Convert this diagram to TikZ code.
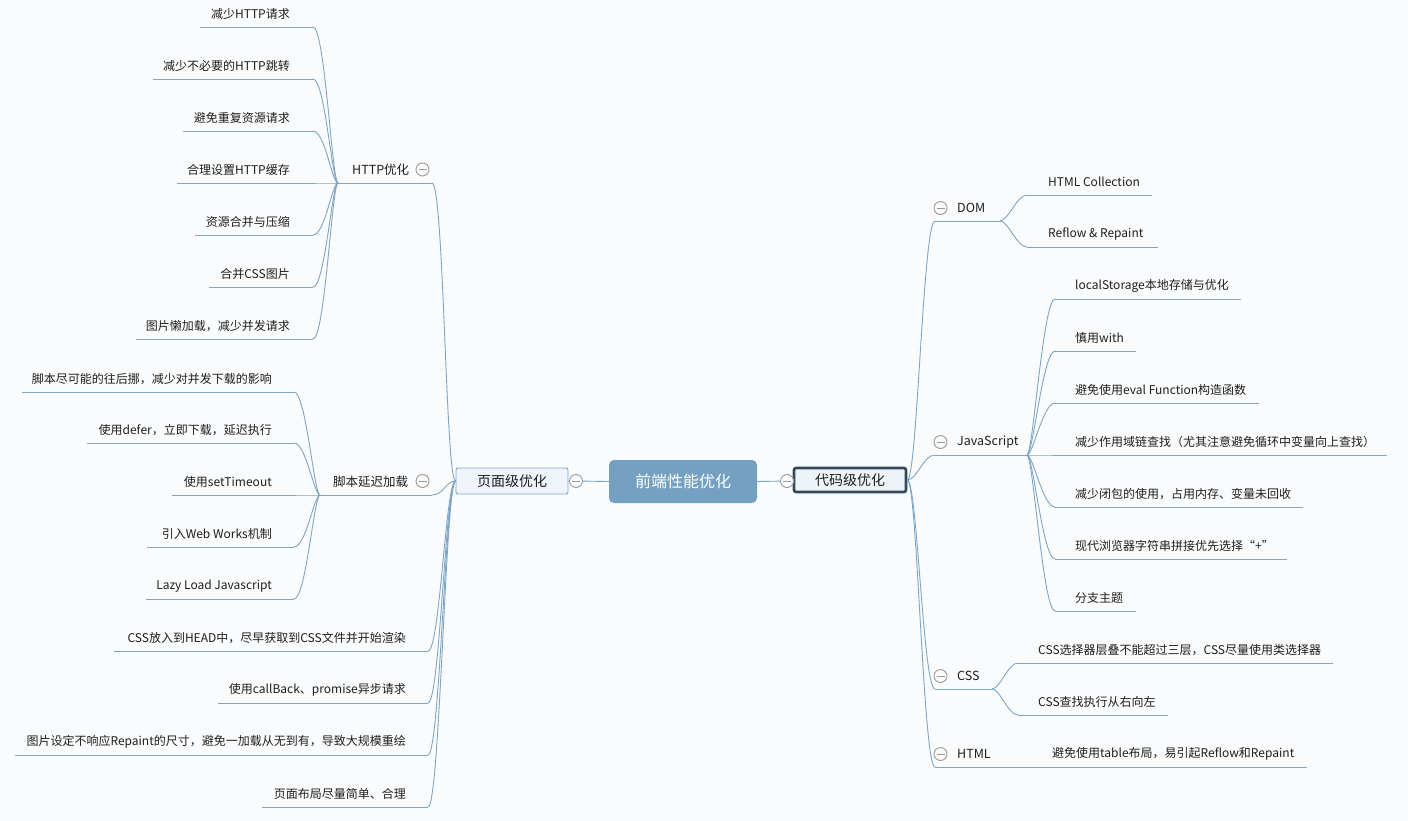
\documentclass[tikz,border=0pt]{standalone}
\usepackage{fontspec}
\setmainfont{Noto Sans CJK SC}
\usetikzlibrary{calc}
\definecolor{bg}{HTML}{FAFBFC}
\definecolor{linec}{HTML}{7FA5C5}
\definecolor{rootc}{HTML}{74A1C1}
\definecolor{lnode}{HTML}{EEF4FA}
\definecolor{lborder}{HTML}{7EA6C8}
\definecolor{rborder}{HTML}{35495C}
\definecolor{rnode}{HTML}{EEF3F7}
\definecolor{txt}{HTML}{1E1E1E}
\definecolor{togc}{HTML}{9A9A9A}
\newcommand\lnk[4]{\draw[conn] (#1) .. controls ($(#1)+(#3,0)$) and ($(#2)+(#4,0)$) .. (#2);}
\begin{document}
\begin{tikzpicture}[x=1pt,y=-1pt,
  conn/.style={draw=linec,line width=0.9pt},
  lab/.style={inner sep=0pt,text=txt,font=\fontsize{12}{14}\selectfont},
  mid/.style={inner sep=0pt,text=txt,font=\fontsize{12.5}{14}\selectfont},
  tog/.style={circle,draw=togc,line width=0.9pt,minimum size=13pt,inner sep=0pt,fill=bg,
    path picture={\draw[togc,line width=0.9pt] ([xshift=2.5pt]path picture bounding box.west) -- ([xshift=-2.5pt]path picture bounding box.east);}},
  rootbox/.style={fill=rootc,rounded corners=5pt,minimum width=148pt,minimum height=43pt,inner sep=0pt,text=white,font=\fontsize{16}{18}\selectfont},
  lbox/.style={fill=lnode,draw=lborder,line width=0.9pt,rounded corners=2pt,minimum width=112pt,minimum height=26pt,inner sep=0pt,text=txt,font=\fontsize{14}{16}\selectfont},
  rbox/.style={fill=rnode,draw=rborder,line width=2.6pt,rounded corners=2pt,minimum width=112pt,minimum height=24pt,inner sep=0pt,text=txt,font=\fontsize{14}{16}\selectfont}
]
\fill[bg] (0,0) rectangle (1408,821);
\useasboundingbox (0,0) rectangle (1408,821);

% central nodes
\node[rootbox] (root) at (683,481.5) {前端性能优化};
\node[lbox] (pl) at (512,481) {页面级优化};
\node[rbox] (cl) at (850,480) {代码级优化};
\node[tog] (t0) at (576,481) {};
\node[tog] (t1) at (787,481) {};
\draw[conn] (root.west) -- (t0) -- (pl.east);
\draw[conn] (root.east) -- (t1) -- (cl.west);

% ---------- HTTP优化 ----------
\coordinate (hE) at (432,183);
\coordinate (hJ) at (338,183);
\draw[conn] (hJ) -- (hE);
\node[mid,anchor=west] (hLab) at (352,170) {HTTP优化};
\node[tog] (hT) at (422.5,169.5) {};
\lnk{pl.west}{hE}{-10}{12}
\foreach \y/\x/\t [count=\i] in {27/200/减少HTTP请求,79/153/减少不必要的HTTP跳转,131/183/避免重复资源请求,183/177/合理设置HTTP缓存,235/195/资源合并与压缩,287/209/合并CSS图片,339/136/图片懒加载，减少并发请求}{
  \coordinate (hR\i) at (313,\y);
  \coordinate (hL\i) at (\x,\y);
  \node[lab,anchor=east] (hN\i) at (290,\y-13) {\t};
  \draw[conn] (hL\i) -- (hR\i);
  \lnk{hJ}{hR\i}{-6}{12}
}

% ---------- 脚本延迟加载 ----------
\coordinate (sE) at (432,495);
\coordinate (sJ) at (320,495);
\draw[conn] (sJ) -- (sE);
\node[mid,anchor=west] (sLab) at (333,482) {脚本延迟加载};
\node[tog] (sT) at (422.5,481) {};
\lnk{pl.west}{sE}{-10}{12}
\foreach \y/\x/\t [count=\i] in {392/22/脚本尽可能的往后挪，减少对并发下载的影响,443/87/使用defer，立即下载，延迟执行,495/172/使用setTimeout,547/147/引入Web Works机制,599/146/Lazy Load Javascript}{
  \coordinate (sR\i) at (294,\y);
  \coordinate (sL\i) at (\x,\y);
  \node[lab,anchor=east] (sN\i) at (272,\y-13) {\t};
  \draw[conn] (sL\i) -- (sR\i);
  \lnk{sJ}{sR\i}{-6}{12}
}

% ---------- direct leaves of 页面级优化 ----------
\foreach \y/\x/\t [count=\i] in {651/114/CSS放入到HEAD中，尽早获取到CSS文件并开始渲染,703/218/使用callBack、promise异步请求,755/15/图片设定不响应Repaint的尺寸，避免一加载从无到有，导致大规模重绘,807/262/页面布局尽量简单、合理}{
  \coordinate (pR\i) at (428,\y);
  \coordinate (pL\i) at (\x,\y);
  \node[lab,anchor=east] (pN\i) at (406,\y-13) {\t};
  \draw[conn] (pL\i) -- (pR\i);
  \lnk{pl.west}{pR\i}{-10}{12}
}

% ---------- DOM ----------
\coordinate (dL) at (935,221);
\coordinate (dJ) at (1000,221);
\draw[conn] (dL) -- (dJ);
\node[mid,anchor=west] (dLab) at (957,208) {DOM};
\node[tog] (dT) at (940.5,208) {};
\lnk{cl.east}{dL}{10}{-12}
\foreach \y/\x/\t [count=\i] in {195/1152/HTML Collection,247/1158/Reflow \& Repaint}{
  \coordinate (dA\i) at (1027,\y);
  \coordinate (dB\i) at (\x,\y);
  \node[lab,anchor=west] (dN\i) at (1048,\y-13) {\t};
  \draw[conn] (dA\i) -- (dB\i);
  \lnk{dJ}{dA\i}{8}{-10}
}

% ---------- JavaScript ----------
\coordinate (jL) at (935,455);
\coordinate (jJ) at (1027,455);
\draw[conn] (jL) -- (jJ);
\node[mid,anchor=west] (jLab) at (957,442) {JavaScript};
\node[tog] (jT) at (940.5,442) {};
\lnk{cl.east}{jL}{10}{-12}
\foreach \y/\x/\t [count=\i] in {299/1241/localStorage本地存储与优化,351/1136/慎用with,403/1259/避免使用eval Function构造函数,455/1387/减少作用域链查找（尤其注意避免循环中变量向上查找）,507/1303/减少闭包的使用，占用内存、变量未回收,559/1287/现代浏览器字符串拼接优先选择“+”,611/1136/分支主题}{
  \coordinate (jA\i) at (1055,\y);
  \coordinate (jB\i) at (\x,\y);
  \node[lab,anchor=west] (jN\i) at (1075,\y-13) {\t};
  \draw[conn] (jA\i) -- (jB\i);
  \lnk{jJ}{jA\i}{6}{-12}
}

% ---------- CSS ----------
\coordinate (cL) at (935,689);
\coordinate (cJ) at (992,689);
\draw[conn] (cL) -- (cJ);
\node[mid,anchor=west] (cLab) at (957,676) {CSS};
\node[tog] (cT) at (940.5,676) {};
\lnk{cl.east}{cL}{10}{-12}
\foreach \y/\x/\t [count=\i] in {663/1333/CSS选择器层叠不能超过三层，CSS尽量使用类选择器,715/1168/CSS查找执行从右向左}{
  \coordinate (cA\i) at (1018,\y);
  \coordinate (cB\i) at (\x,\y);
  \node[lab,anchor=west] (cN\i) at (1038,\y-13) {\t};
  \draw[conn] (cA\i) -- (cB\i);
  \lnk{cJ}{cA\i}{8}{-10}
}

% ---------- HTML ----------
\coordinate (mL) at (935,767);
\coordinate (mJ) at (1030,767);
\coordinate (mB) at (1307,767);
\draw[conn] (mL) -- (mJ);
\node[mid,anchor=west] (mLab) at (957,754) {HTML};
\node[tog] (mT) at (940.5,754) {};
\lnk{cl.east}{mL}{10}{-12}
\node[lab,anchor=west] (mN) at (1052,754) {避免使用table布局，易引起Reflow和Repaint};
\draw[conn] (mJ) -- (mB);
\end{tikzpicture}
\end{document}
